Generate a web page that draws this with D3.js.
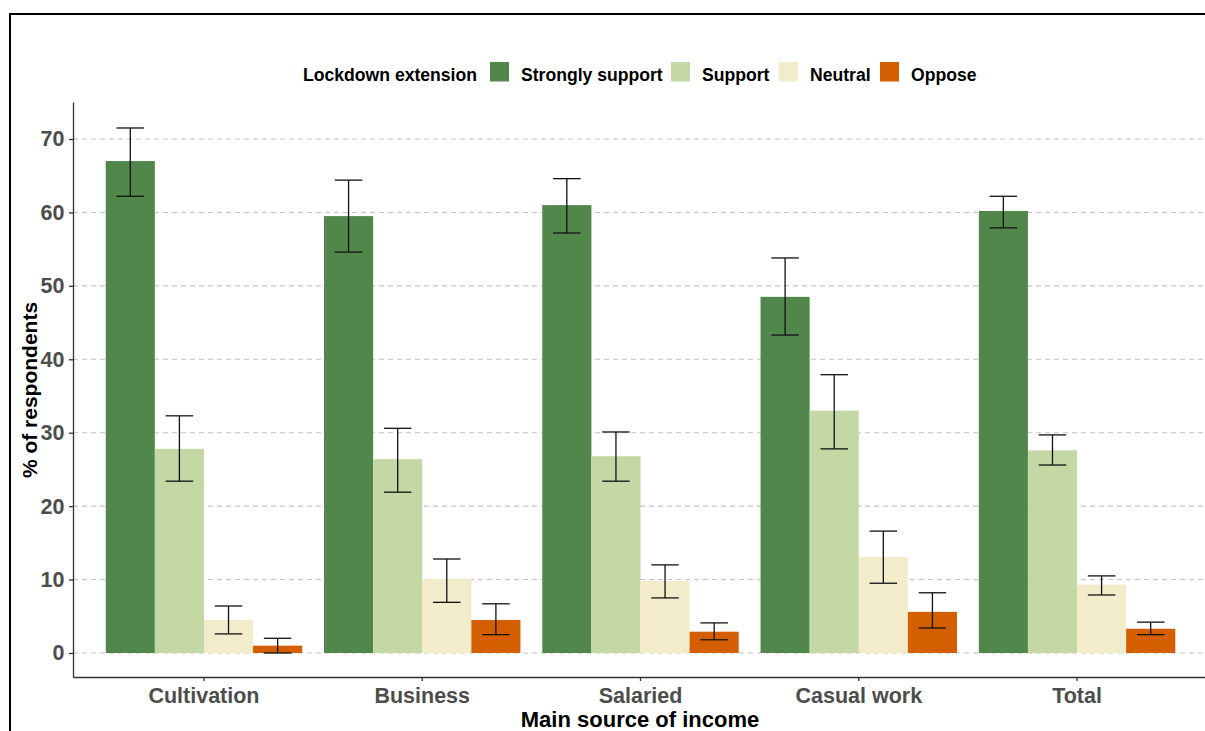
<!DOCTYPE html>
<html>
<head>
<meta charset="utf-8">
<script src="https://cdn.jsdelivr.net/npm/d3@7"></script>
<style>
  body { margin: 0; background: #fff; }
  svg { display: block; font-family: "Liberation Sans", Arial, sans-serif; }
</style>
</head>
<body>
<svg width="1205" height="731"></svg>
<script>
// data
const categories = ['Cultivation', 'Business', 'Salaried', 'Casual work', 'Total'];
const responses = ['Strongly support', 'Support', 'Neutral', 'Oppose'];
const colors = ['#52874c', '#c4d8a5', '#f2ecca', '#d35f00'];
const yTicks = [0, 10, 20, 30, 40, 50, 60, 70];

// rows = categories, columns = responses
const values = [
    [67.0, 27.8, 4.5, 1.0],
    [59.5, 26.4, 10.1, 4.5],
    [61.0, 26.8, 9.8, 2.9],
    [48.5, 33.0, 13.1, 5.6],
    [60.2, 27.6, 9.3, 3.3],
];
const lower = [
    [62.2, 23.4, 2.6, 0.0],
    [54.6, 21.9, 6.9, 2.5],
    [57.2, 23.4, 7.5, 1.8],
    [43.3, 27.8, 9.5, 3.4],
    [57.9, 25.6, 7.9, 2.5],
];
const upper = [
    [71.5, 32.3, 6.4, 2.0],
    [64.4, 30.6, 12.8, 6.7],
    [64.6, 30.1, 12.0, 4.1],
    [53.8, 37.9, 16.6, 8.2],
    [62.2, 29.7, 10.5, 4.2],
];

const svg = d3.select('svg');

const plotLeft = 73;
const plotRight = 1208;
const plotTop = 102;
const plotBottom = 677;

// outer frame
svg.append('rect')
    .attr('x', 10).attr('y', 14)
    .attr('width', 1300).attr('height', 800)
    .attr('fill', 'none')
    .attr('stroke', '#000')
    .attr('stroke-width', 2);

const x = d3.scaleBand()
    .domain(categories)
    .range([plotLeft, plotRight])
    .paddingInner(0.1)
    .paddingOuter(0.15);

const xSub = d3.scaleBand()
    .domain(responses)
    .range([0, x.bandwidth()]);

const y = d3.scaleLinear()
    .domain([-3.27, 75.04])
    .range([plotBottom, plotTop]);

const color = d3.scaleOrdinal().domain(responses).range(colors);

// grid
svg.append('g')
    .selectAll('line')
    .data(yTicks)
    .join('line')
    .attr('x1', plotLeft).attr('x2', 1205)
    .attr('y1', d => y(d)).attr('y2', d => y(d))
    .attr('stroke', '#c4c4c4')
    .attr('stroke-width', 1.1)
    .attr('stroke-dasharray', '5,4');

// bars
const rows = [];
categories.forEach((c, i) => {
    responses.forEach((r, j) => {
        rows.push({cat: c, resp: r, v: values[i][j], lo: lower[i][j], hi: upper[i][j]});
    });
});

svg.append('g')
    .selectAll('rect')
    .data(rows)
    .join('rect')
    .attr('x', d => x(d.cat) + xSub(d.resp))
    .attr('y', d => y(d.v))
    .attr('width', xSub.bandwidth())
    .attr('height', d => y(0) - y(d.v))
    .attr('fill', d => color(d.resp));

// error bars
const capW = xSub.bandwidth() * 0.28;
const err = svg.append('g')
    .attr('stroke', '#111')
    .attr('stroke-width', 1.3)
    .attr('fill', 'none');

rows.forEach(d => {
    const cx = x(d.cat) + xSub(d.resp) + xSub.bandwidth() / 2;
    err.append('line')
        .attr('x1', cx).attr('x2', cx)
        .attr('y1', y(d.lo)).attr('y2', y(d.hi));
    err.append('line')
        .attr('x1', cx - capW).attr('x2', cx + capW)
        .attr('y1', y(d.lo)).attr('y2', y(d.lo));
    err.append('line')
        .attr('x1', cx - capW).attr('x2', cx + capW)
        .attr('y1', y(d.hi)).attr('y2', y(d.hi));
});

// axes
const yAxis = svg.append('g')
    .attr('transform', `translate(${plotLeft},0)`)
    .call(d3.axisLeft(y).tickValues(yTicks).tickSize(4).tickPadding(4.5).tickSizeOuter(0));

const xAxis = svg.append('g')
    .attr('transform', `translate(0,${plotBottom})`)
    .call(d3.axisBottom(x).tickSize(4).tickPadding(7).tickSizeOuter(0));

[yAxis, xAxis].forEach(a => {
    a.select('.domain').attr('stroke', '#333').attr('stroke-width', 1.3);
    a.selectAll('.tick line').attr('stroke', '#333').attr('stroke-width', 1.3);
    a.selectAll('.tick text')
        .attr('fill', '#4d4d4d')
        .attr('font-size', 21.5)
        .attr('font-weight', 'bold')
        .attr('font-family', '"Liberation Sans", Arial, sans-serif');
});

// axis titles
svg.append('text')
    .attr('transform', 'translate(37,390) rotate(-90)')
    .attr('text-anchor', 'middle')
    .attr('font-size', 21)
    .attr('font-weight', 'bold')
    .text('% of respondents');

svg.append('text')
    .attr('x', 640).attr('y', 727)
    .attr('text-anchor', 'middle')
    .attr('font-size', 22)
    .attr('font-weight', 'bold')
    .text('Main source of income');

// legend
const legend = svg.append('g')
    .attr('font-size', 17.6)
    .attr('font-weight', 'bold');

legend.append('text')
    .attr('x', 303).attr('y', 80.5)
    .text('Lockdown extension');

const keyX = [490, 671, 779, 880];
responses.forEach((r, i) => {
    legend.append('rect')
        .attr('x', keyX[i]).attr('y', 62)
        .attr('width', 19).attr('height', 19.5)
        .attr('fill', color(r));
    legend.append('text')
        .attr('x', keyX[i] + 31).attr('y', 80.5)
        .text(r);
});
</script>
</body>
</html>
